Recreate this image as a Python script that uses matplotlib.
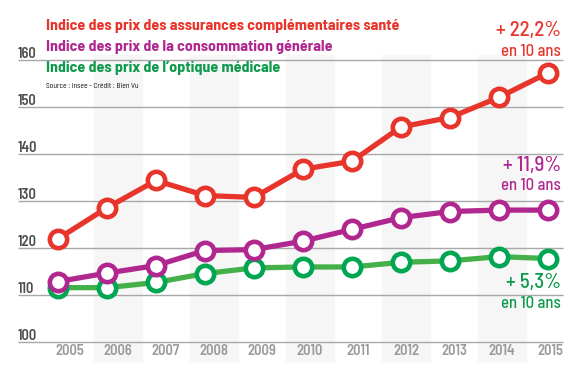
import matplotlib
matplotlib.use("Agg")
import matplotlib.pyplot as plt
from matplotlib.patches import Rectangle

years = [2005, 2006, 2007, 2008, 2009, 2010, 2011, 2012, 2013, 2014, 2015]
assurances = [121.9, 128.5, 134.3, 131.1, 130.7, 136.7, 138.4, 145.7, 147.7, 152.0, 157.2]
consommation = [112.8, 114.6, 116.2, 119.4, 119.6, 121.4, 123.9, 126.4, 127.7, 128.0, 128.0]
optique = [111.5, 111.5, 112.6, 114.5, 115.7, 115.9, 115.9, 116.9, 117.2, 118.1, 117.7]
y_ticks = [100, 110, 120, 130, 140, 150, 160]
titles = ["Indice des prix des assurances complémentaires santé",
          "Indice des prix de la consommation générale",
          "Indice des prix de l\u2019optique médicale"]
source = "Source : Insee - Crédit : Bien Vu"
changes = ["+ 22,2%", "+ 11,9%", "+ 5,3%"]
sub = "en 10 ans"

RED = "#e8352b"
PURPLE = "#b0288f"
GREEN_LINE = "#45b04a"
GREEN_MK = "#00a651"
GREEN_TXT = "#0d9a4a"
FONT = ["Barlow Semi Condensed", "DejaVu Sans"]

W, H = 570, 383
fig = plt.figure(figsize=(W / 100, H / 100), dpi=100)
ax = fig.add_axes([0, 0, 1, 1])
ax.set_axis_off()

px_per_year = 49.0
px_per_unit = 4.7
x0px, y100px = 58.0, 341.7
ax.set_xlim(2005 - x0px / px_per_year, 2015 + (W - 548) / px_per_year)
ax.set_ylim(100 - (H - y100px) / px_per_unit, 100 + y100px / px_per_unit)

def fx(px):
    return px / W
def fy(py):
    return 1 - py / H

# alternating bands + year labels
for i, yr in enumerate(years):
    cx = 70 + 48 * i
    if i % 2 == 1:
        ax.add_patch(Rectangle((fx(cx - 24), fy(361)), 48 / W, (361 - 55) / H,
                               transform=fig.transFigure, color="#f6f6f6", zorder=0.5))
    fig.text(fx(cx), fy(351), str(yr), ha="center", va="center", fontsize=10.5,
             color="#9a9a9a", fontweight="semibold", family=FONT)

# grid lines + y labels
for v in y_ticks:
    ax.hlines(v, 2005 + (18 - x0px) / px_per_year, 2005 + (563 - x0px) / px_per_year,
              color="#a8a8a8", lw=1.0, zorder=1)
    fig.text(fx(18), fy(y100px - (v - 100) * px_per_unit + 1.5), str(v), ha="left", va="bottom",
             fontsize=10.5, color="#4d4d4d", fontweight="semibold", family=FONT)

def series(vals, lc, mc):
    ax.plot(years, vals, color=lc, lw=3.8, zorder=3, solid_capstyle="round")
    ax.plot(years, vals, ls="none", marker="o", markersize=12.5, markerfacecolor="white",
            markeredgecolor=mc, markeredgewidth=3.3, zorder=4)

series(optique, GREEN_LINE, GREEN_MK)
series(consommation, PURPLE, PURPLE)
series(assurances, RED, RED)

# titles
for t, c, py in zip(titles, [RED, PURPLE, GREEN_TXT], [26, 47, 68]):
    fig.text(fx(46), fy(py), t, ha="left", va="center", fontsize=11.5, color=c,
             fontweight="bold", family=FONT)
fig.text(fx(46), fy(87), source, ha="left", va="center", fontsize=5.5, color="#111111",
         family=FONT)

# right annotations
for t, c, py in zip(changes, [RED, PURPLE, GREEN_TXT], [30, 165, 283]):
    fig.text(fx(561), fy(py), t, ha="right", va="center", fontsize=15, color=c,
             fontweight="medium", family=FONT)
    fig.text(fx(561), fy(py + 21), sub, ha="right", va="center", fontsize=12, color=c,
             fontweight="medium", family=FONT)

fig.savefig("out.png", dpi=100)
